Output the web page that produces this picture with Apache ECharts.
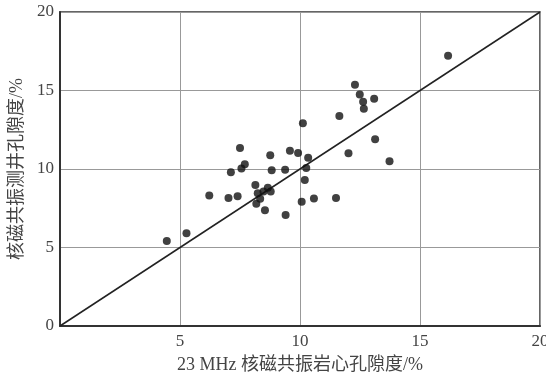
<!DOCTYPE html>
<html><head><meta charset="utf-8">
<script src="https://cdn.jsdelivr.net/npm/echarts@6/dist/echarts.min.js"></script>
<style>html,body{margin:0;padding:0;background:#fff}#c{width:546px;height:375px}</style>
</head><body><div id="c"></div>
<script>
var coreX = [4.45,5.27,6.22,7.02,7.40,7.12,7.50,7.56,7.70,8.14,8.24,8.34,8.18,8.48,8.66,8.78,8.54,8.76,8.82,9.38,9.58,9.40,9.92,10.12,10.26,10.34,10.20,10.07,10.58,11.50,11.64,12.02,12.29,12.49,12.63,12.66,13.09,13.13,13.73,16.17];
var logY  = [5.42,5.91,8.32,8.16,8.27,9.80,11.33,10.03,10.30,8.98,8.45,8.10,7.78,8.57,8.80,8.56,7.38,10.88,9.92,9.96,11.16,7.07,11.02,12.92,10.07,10.72,9.30,7.92,8.12,8.16,13.38,11.01,15.37,14.75,14.29,13.84,14.48,11.90,10.49,17.21];
var xTicks = ['', '5', '10', '15', '20'];
var yTicks = ['0', '5', '10', '15', '20'];
var refLine = [[0,0],[20,20]];
var pts = coreX.map(function(x,i){return [x, logY[i]];});
var chart = echarts.init(document.getElementById('c'));
var serif = '"Liberation Serif","Noto Sans CJK SC",serif';
chart.setOption({
  animation:false,
  backgroundColor:'#fff',
  grid:{left:60,right:6,top:12,bottom:49,outerBoundsMode:'none',containLabel:false,
    show:true,borderColor:'#333',borderWidth:1.5,backgroundColor:'transparent'},
  xAxis:{type:'value',min:0,max:20,interval:5,
    name:'23 MHz 核磁共振岩心孔隙度/%',nameLocation:'middle',nameGap:30,
    nameTextStyle:{fontFamily:serif,fontSize:18,color:'#444'},
    axisLine:{lineStyle:{color:'#333',width:2}},axisTick:{show:false},
    axisLabel:{fontFamily:serif,fontSize:17,color:'#444',margin:7,
      formatter:function(v){return xTicks[Math.round(v/5)];}},
    splitLine:{lineStyle:{color:'#999',width:1}}},
  yAxis:{type:'value',min:0,max:20,interval:5,
    name:'核磁共振测井孔隙度/%',nameLocation:'middle',nameGap:34,
    nameTextStyle:{fontFamily:serif,fontSize:18,color:'#444'},
    axisLine:{lineStyle:{color:'#333',width:2}},axisTick:{show:false},
    axisLabel:{fontFamily:serif,fontSize:17,color:'#444',margin:6,
      formatter:function(v){return yTicks[Math.round(v/5)];}},
    splitLine:{lineStyle:{color:'#999',width:1}}},
  series:[
    {type:'line',data:refLine,symbol:'none',lineStyle:{color:'#222',width:1.5},z:2},
    {type:'scatter',data:pts,symbol:'circle',symbolSize:8,itemStyle:{color:'#111'},z:3}
  ]
});
</script></body></html>
